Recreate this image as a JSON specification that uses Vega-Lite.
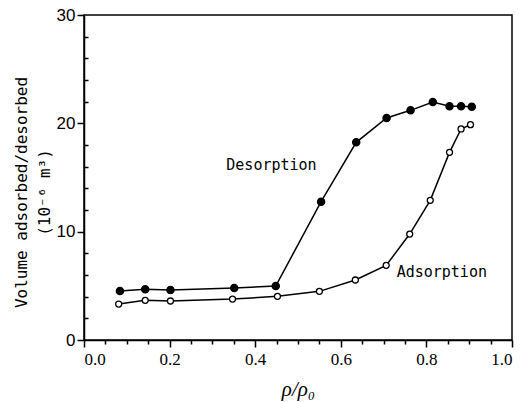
{
  "$schema": "https://vega.github.io/schema/vega-lite/v6.json",
  "width": 428,
  "height": 325,
  "autosize": {"type": "none"},
  "padding": {"left": 84, "top": 15, "right": 16, "bottom": 62},
  "background": "white",
  "config": {
    "view": {"stroke": "black", "strokeWidth": 1.5},
    "axis": {"domainColor": "black", "tickColor": "black", "labelColor": "black", "titleColor": "black", "grid": false, "domainWidth": 1.5, "tickWidth": 1.5, "labelOverlap": false, "labelBound": false}
  },
  "datasets": {
    "iso": [
      {"series": "Desorption", "x": 0.084, "y": 4.52},
      {"series": "Desorption", "x": 0.143, "y": 4.68},
      {"series": "Desorption", "x": 0.202, "y": 4.62},
      {"series": "Desorption", "x": 0.351, "y": 4.8},
      {"series": "Desorption", "x": 0.448, "y": 4.98},
      {"series": "Desorption", "x": 0.554, "y": 12.77},
      {"series": "Desorption", "x": 0.636, "y": 18.25},
      {"series": "Desorption", "x": 0.707, "y": 20.49},
      {"series": "Desorption", "x": 0.763, "y": 21.2},
      {"series": "Desorption", "x": 0.815, "y": 21.97},
      {"series": "Desorption", "x": 0.854, "y": 21.57},
      {"series": "Desorption", "x": 0.881, "y": 21.57},
      {"series": "Desorption", "x": 0.906, "y": 21.54},
      {"series": "Adsorption", "x": 0.081, "y": 3.32},
      {"series": "Adsorption", "x": 0.143, "y": 3.66},
      {"series": "Adsorption", "x": 0.202, "y": 3.6},
      {"series": "Adsorption", "x": 0.347, "y": 3.78},
      {"series": "Adsorption", "x": 0.452, "y": 4.03},
      {"series": "Adsorption", "x": 0.55, "y": 4.49},
      {"series": "Adsorption", "x": 0.634, "y": 5.54},
      {"series": "Adsorption", "x": 0.706, "y": 6.89},
      {"series": "Adsorption", "x": 0.761, "y": 9.78},
      {"series": "Adsorption", "x": 0.809, "y": 12.89},
      {"series": "Adsorption", "x": 0.854, "y": 17.32},
      {"series": "Adsorption", "x": 0.881, "y": 19.48},
      {"series": "Adsorption", "x": 0.903, "y": 19.88}
    ],
    "labels": [
      {"label": "Desorption", "x": 0.438, "y": 16.15},
      {"label": "Adsorption", "x": 0.836, "y": 6.3}
    ]
  },
  "layer": [
    {
      "data": {"name": "iso"},
      "mark": {"type": "line", "color": "black", "strokeWidth": 1.5, "interpolate": "linear"},
      "encoding": {
        "x": {"field": "x", "type": "quantitative", "scale": {"domain": [0, 1], "nice": false},
          "axis": {"orient": "bottom", "tickCount": 100,
            "values": [0, 0.05, 0.1, 0.15, 0.2, 0.25, 0.3, 0.35, 0.4, 0.45, 0.5, 0.55, 0.6, 0.65, 0.7, 0.75, 0.8, 0.85, 0.9, 0.95, 1.0],
            "labelExpr": "abs(datum.value * 5 - round(datum.value * 5)) < 0.001 ? format(datum.value, '.1f') : ''",
            "tickSize": {"condition": {"test": "abs(datum.value * 5 - round(datum.value * 5)) < 0.001", "value": 7}, "value": 4},
            "labelFont": "Liberation Serif", "labelFontSize": 17, "labelPadding": 4,
            "title": "ρ/ρ₀", "titleFont": "Liberation Serif", "titleFontStyle": "italic", "titleFontWeight": "normal", "titleFontSize": 21, "titlePadding": 11}},
        "y": {"field": "y", "type": "quantitative", "scale": {"domain": [0, 30], "nice": false},
          "axis": {"orient": "left", "tickCount": 100,
            "values": [0, 2, 4, 6, 8, 10, 12, 14, 16, 18, 20, 22, 24, 26, 28, 30],
            "labelExpr": "datum.value % 10 === 0 ? format(datum.value, 'd') : ''",
            "tickSize": {"condition": {"test": "datum.value % 10 === 0", "value": 7}, "value": -4},
            "labelFont": "Liberation Sans", "labelFontSize": 17, "labelPadding": 2,
            "title": ["Volume adsorbed/desorbed", "(10⁻⁶ m³)"], "titleFont": "DejaVu Sans Mono", "titleFontSize": 16, "titleFontWeight": "normal",
            "titleAngle": -90, "titleAlign": "center", "titleBaseline": "top", "titleX": -71, "titleY": 177, "titleLineHeight": 23}},
        "detail": {"field": "series"}
      }
    },
    {
      "data": {"name": "iso"},
      "mark": {"type": "point", "stroke": "black", "strokeWidth": 1.3, "opacity": 1},
      "encoding": {
        "x": {"field": "x", "type": "quantitative"},
        "y": {"field": "y", "type": "quantitative"},
        "fill": {"field": "series", "type": "nominal", "scale": {"domain": ["Adsorption", "Desorption"], "range": ["white", "black"]}, "legend": null},
        "size": {"field": "series", "type": "nominal", "scale": {"domain": ["Adsorption", "Desorption"], "range": [36, 52]}, "legend": null}
      }
    },
    {
      "data": {"name": "labels"},
      "mark": {"type": "text", "font": "DejaVu Sans Mono", "fontSize": 15, "color": "black", "align": "center", "baseline": "middle"},
      "encoding": {
        "x": {"field": "x", "type": "quantitative"},
        "y": {"field": "y", "type": "quantitative"},
        "text": {"field": "label"}
      }
    }
  ]
}
